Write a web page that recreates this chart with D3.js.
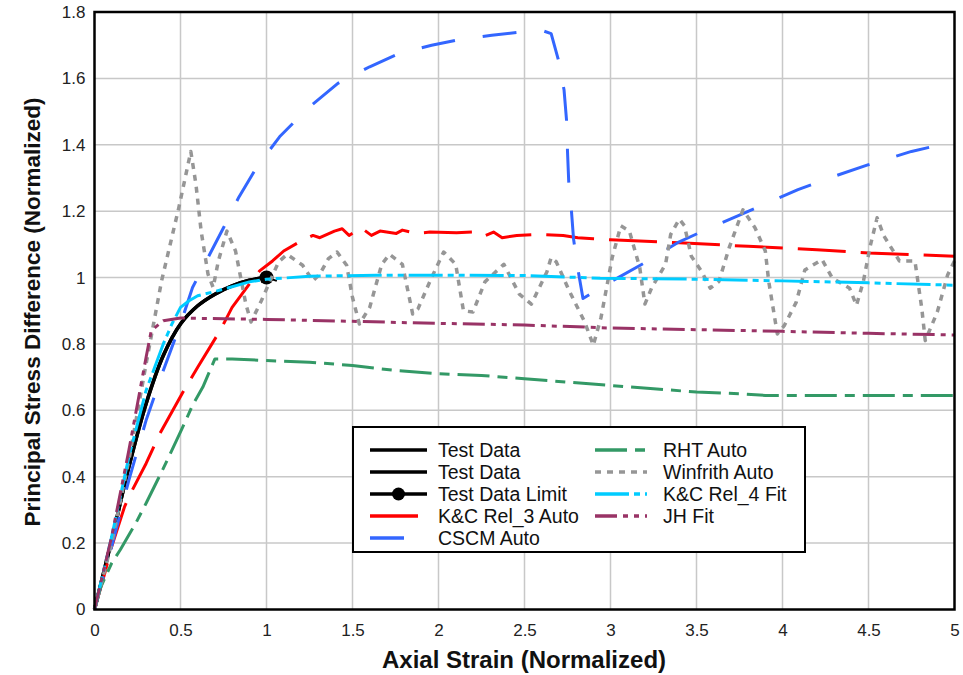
<!DOCTYPE html>
<html>
<head>
<meta charset="utf-8">
<script src="https://cdn.jsdelivr.net/npm/d3@7/dist/d3.min.js"></script>
<style>
  body { margin:0; background:#fff; }
  svg text { font-family: "Liberation Sans", Arial, sans-serif; }
</style>
</head>
<body>
<svg id="chart" width="963" height="675"></svg>
<script>
// donnees (x = deformation axiale, y = contrainte normalisee)
var xTicks = [0, 0.5, 1, 1.5, 2, 2.5, 3, 3.5, 4, 4.5, 5];
var xTickLabels = ["0", "0.5", "1", "1.5", "2", "2.5", "3", "3.5", "4", "4.5", "5"];
var yTicks = [0, 0.2, 0.4, 0.6, 0.8, 1, 1.2, 1.4, 1.6, 1.8];
var yTickLabels = ["0", "0.2", "0.4", "0.6", "0.8", "1", "1.2", "1.4", "1.6", "1.8"];

var testData = [[0,0],[0.1,0.21],[0.2,0.43],[0.3,0.62],[0.4,0.765],[0.5,0.86],[0.6,0.915],[0.7,0.95],[0.8,0.975],[0.9,0.992],[1.0,1.0]];
var testLimit = [[0.97,0.985],[1.0,1.0],[1.06,0.99]];
var kcRel3 = [[0,0],[0.06,0.11],[0.1,0.19],[0.175,0.31],[0.21,0.35],[0.3,0.44],[0.38,0.53],[0.52,0.66],[0.6,0.73],[0.73,0.84],[0.8,0.91],[0.9,0.98],[0.96,1.02],[1.035,1.05],[1.1,1.08],[1.2,1.11],[1.27,1.127],[1.31,1.12],[1.395,1.14],[1.44,1.147],[1.48,1.127],[1.55,1.15],[1.61,1.127],[1.66,1.14],[1.755,1.133],[1.79,1.143],[1.87,1.133],[1.95,1.137],[2.105,1.135],[2.2,1.137],[2.26,1.124],[2.32,1.137],[2.37,1.12],[2.455,1.127],[2.59,1.13],[2.725,1.127],[2.81,1.12],[2.9,1.117],[3.0,1.114],[3.4,1.105],[3.8,1.094],[4.2,1.084],[4.5,1.074],[5.0,1.064]];
var cscm = [[0,0],[0.1,0.19],[0.2,0.39],[0.3,0.57],[0.4,0.72],[0.5,0.86],[0.57,0.97],[0.66,1.06],[0.75,1.15],[0.84,1.243],[0.94,1.33],[1.076,1.424],[1.24,1.51],[1.415,1.585],[1.6,1.635],[1.77,1.675],[1.96,1.70],[2.12,1.717],[2.31,1.73],[2.48,1.74],[2.61,1.743],[2.655,1.735],[2.70,1.65],[2.73,1.565],[2.745,1.47],[2.75,1.38],[2.757,1.29],[2.773,1.2],[2.785,1.117],[2.81,1.027],[2.84,0.937],[3.0,0.987],[3.2,1.045],[3.39,1.105],[3.55,1.143],[3.74,1.186],[3.91,1.224],[4.09,1.265],[4.3,1.305],[4.5,1.34],[4.75,1.38],[5.0,1.41]];
var rht = [[0,0],[0.036,0.067],[0.1,0.14],[0.15,0.18],[0.24,0.26],[0.3,0.32],[0.4,0.425],[0.5,0.535],[0.57,0.615],[0.63,0.67],[0.7,0.755],[0.8,0.755],[1.0,0.75],[1.25,0.745],[1.5,0.735],[1.75,0.72],[2.0,0.71],[2.25,0.705],[2.5,0.695],[2.75,0.685],[3.0,0.675],[3.25,0.665],[3.5,0.655],[3.75,0.65],[3.9,0.645],[4.5,0.645],[5.0,0.645]];
var winfrith = [[0,0],[0.1,0.2],[0.2,0.45],[0.3,0.74],[0.39,0.99],[0.49,1.21],[0.56,1.38],[0.59,1.28],[0.62,1.14],[0.66,1.01],[0.69,0.97],[0.72,1.05],[0.77,1.14],[0.82,1.08],[0.88,0.92],[0.91,0.866],[0.97,0.93],[1.07,1.047],[1.12,1.07],[1.21,1.037],[1.27,0.99],[1.31,1.01],[1.36,1.057],[1.41,1.077],[1.466,1.037],[1.5,0.94],[1.54,0.86],[1.6,0.91],[1.67,1.04],[1.715,1.07],[1.79,1.04],[1.85,0.89],[1.88,0.905],[1.96,1.0],[2.03,1.077],[2.1,1.04],[2.145,0.90],[2.2,0.896],[2.27,0.987],[2.38,1.04],[2.47,0.95],[2.54,0.92],[2.63,1.017],[2.655,1.06],[2.685,1.047],[2.76,0.96],[2.85,0.866],[2.90,0.796],[2.945,0.88],[3.01,1.06],[3.06,1.156],[3.11,1.14],[3.17,1.03],[3.20,0.92],[3.24,0.97],[3.32,1.04],[3.35,1.13],[3.40,1.176],[3.43,1.156],[3.47,1.064],[3.53,1.018],[3.58,0.968],[3.63,0.988],[3.69,1.09],[3.77,1.204],[3.84,1.15],[3.90,1.08],[3.92,0.988],[3.97,0.83],[4.01,0.855],[4.08,0.926],[4.13,1.023],[4.23,1.054],[4.29,0.998],[4.39,0.968],[4.43,0.916],[4.47,0.988],[4.51,1.095],[4.55,1.18],[4.59,1.125],[4.68,1.05],[4.77,1.05],[4.81,0.906],[4.83,0.81],[4.90,0.896],[4.96,1.008],[5.0,1.05]];
var kcRel4 = [[0,0],[0.1,0.22],[0.2,0.46],[0.3,0.66],[0.4,0.8],[0.45,0.86],[0.5,0.91],[0.55,0.93],[0.6,0.945],[0.7,0.958],[0.785,0.97],[0.9,0.987],[1.0,0.995],[1.09,0.998],[1.25,1.004],[1.64,1.007],[2.0,1.007],[2.5,1.006],[2.94,0.998],[3.5,0.995],[4.0,0.99],[4.5,0.984],[5.0,0.977]];
var jhFit = [[0,0],[0.1,0.22],[0.2,0.48],[0.3,0.76],[0.33,0.84],[0.4,0.87],[0.5,0.878],[1.0,0.874],[1.5,0.868],[2.0,0.862],[2.5,0.857],[3.0,0.848],[3.5,0.843],[4.0,0.838],[4.5,0.832],[5.0,0.827]];

var series = [
	{nom:"Test Data", data:testData, coul:"#000000", tiret:null, ep:3.5, col:0, row:0},
	{nom:"Test Data", data:testData, coul:"#000000", tiret:null, ep:3.5, col:0, row:1},
	{nom:"Test Data Limit", data:testLimit, coul:"#000000", tiret:null, ep:2, col:0, row:2, point:[1,1]},
	{nom:"K&C Rel_3 Auto", data:kcRel3, coul:"#ff0000", tiret:"48,15", ep:3, col:0, row:3},
	{nom:"CSCM Auto", data:cscm, coul:"#3366ff", tiret:"34,28", ep:3, col:0, row:4},
	{nom:"RHT Auto", data:rht, coul:"#339966", tiret:"32,8,10,8", ep:3, col:1, row:0},
	{nom:"Winfrith Auto", data:winfrith, coul:"#969696", tiret:"6,6", ep:3.5, col:1, row:1},
	{nom:"K&C Rel_4 Fit", data:kcRel4, coul:"#00ccff", tiret:"34,5,6,5,6,5", ep:3, col:1, row:2},
	{nom:"JH Fit", data:jhFit, coul:"#993366", tiret:"22,6,5,6,5,6", ep:3, col:1, row:3}
];

var svg = d3.select("#chart");
var x = d3.scaleLinear().domain([0,5]).range([94.5,954.5]);
var y = d3.scaleLinear().domain([0,1.8]).range([609.5,12]);

//grille
svg.append("g").selectAll("line").data(xTicks.slice(1,-1)).enter().append("line")
	.attr("x1",d=>x(d)).attr("x2",d=>x(d)).attr("y1",y(0)).attr("y2",y(1.8))
	.attr("stroke","#c8c8c8").attr("stroke-width",1.5);
svg.append("g").selectAll("line").data(yTicks.slice(1,-1)).enter().append("line")
	.attr("y1",d=>y(d)).attr("y2",d=>y(d)).attr("x1",x(0)).attr("x2",x(5))
	.attr("stroke","#c8c8c8").attr("stroke-width",1.5);

//axes
var axeX = d3.axisBottom(x).tickValues(xTicks).tickSize(0).tickPadding(14)
	.tickFormat((d,i)=>xTickLabels[i]);
var gx = svg.append("g").attr("transform","translate(0,"+y(0)+")").call(axeX);
gx.select(".domain").remove();
gx.selectAll("text").attr("font-size",17).attr("fill","#222").attr("font-family","Liberation Sans, Arial");

var axeY = d3.axisLeft(y).tickValues(yTicks).tickSize(0).tickPadding(9)
	.tickFormat((d,i)=>yTickLabels[i]);
var gy = svg.append("g").attr("transform","translate("+x(0)+",0)").call(axeY);
gy.select(".domain").remove();
gy.selectAll("text").attr("font-size",17).attr("fill","#222").attr("font-family","Liberation Sans, Arial");

//courbes
var ligne = d3.line().x(d=>x(d[0])).y(d=>y(d[1]));
var plot = svg.append("g");
series.forEach(function(s){
	var p = plot.append("path").datum(s.data)
		.attr("d", s.data===testData ? ligne.curve(d3.curveCatmullRom)(s.data) : ligne.curve(d3.curveLinear)(s.data))
		.attr("fill","none").attr("stroke",s.coul).attr("stroke-width",s.ep)
		.attr("stroke-linejoin","round").attr("stroke-linecap","butt");
	if(s.tiret) p.attr("stroke-dasharray",s.tiret);
	if(s.point){
		plot.append("circle").attr("cx",x(s.point[0])).attr("cy",y(s.point[1])).attr("r",7).attr("fill","#000");
	}
});

//cadre
svg.append("rect").attr("x",x(0)).attr("y",y(1.8)).attr("width",x(5)-x(0)).attr("height",y(0)-y(1.8))
	.attr("fill","none").attr("stroke","#000").attr("stroke-width",2.5);

//titres
svg.append("text").attr("x",524).attr("y",668).attr("text-anchor","middle")
	.attr("font-size",24).attr("font-weight","bold").attr("fill","#111")
	.text("Axial Strain (Normalized)");
svg.append("text").attr("transform","translate(40,312) rotate(-90)").attr("text-anchor","middle")
	.attr("font-size",22.5).attr("font-weight","bold").attr("fill","#111")
	.text("Principal Stress Difference (Normalized)");

//legende
var leg = svg.append("g");
leg.append("rect").attr("x",353).attr("y",427).attr("width",452).attr("height",125)
	.attr("fill","#fff").attr("stroke","#000").attr("stroke-width",2);
var colX = [[370,427,438],[595,647,663]];
series.forEach(function(s){
	var cy = 450 + s.row*22;
	var c = colX[s.col];
	var l = leg.append("line").attr("x1",c[0]).attr("x2",c[1]).attr("y1",cy).attr("y2",cy)
		.attr("stroke",s.coul).attr("stroke-width",3.5);
	if(s.tiret) l.attr("stroke-dasharray",s.tiret);
	if(s.point) leg.append("circle").attr("cx",(c[0]+c[1])/2).attr("cy",cy).attr("r",6.5).attr("fill","#000");
	leg.append("text").attr("x",c[2]).attr("y",cy+7).attr("font-size",19.5).attr("fill","#111").text(s.nom);
});
</script>
</body>
</html>
